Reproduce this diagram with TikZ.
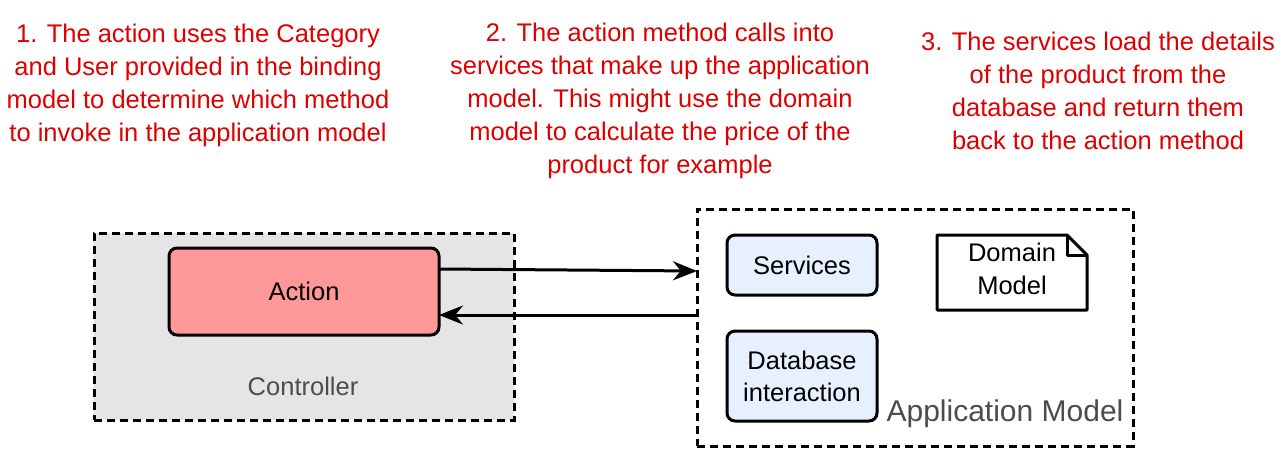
\documentclass[tikz,border=0pt]{standalone}
\usepackage{fontspec}
\setmainfont{Liberation Sans}
\usetikzlibrary{arrows.meta}
\definecolor{red1}{HTML}{DD0000}
\begin{document}
\begin{tikzpicture}[x=1pt,y=-1pt,
  box/.style={draw,line width=3pt,rounded corners=8pt,align=center,font=\fontsize{25.5}{32}\selectfont},
  dsh/.style={draw,line width=3pt,dash pattern=on 8pt off 5pt},
  note/.style={text=red1,align=center,font=\fontsize{25.5}{33}\selectfont},
  arr/.style={line width=3pt,-{Stealth[length=24pt,width=19pt]}}]
\useasboundingbox (0,0) rectangle (1284,450);
\node[dsh,fill=black!10,minimum width=420pt,minimum height=187pt] (ctrl) at (304,326.5) {};
\node[text=black!70,font=\fontsize{25.5}{30}\selectfont] (ctrll) at (303,386) {Controller};
\node[box,fill={rgb,255:red,255;green,153;blue,153},minimum width=270pt,minimum height=87pt] (act) at (304,291.5) {Action};
\node[dsh,fill=white,minimum width=436pt,minimum height=237pt] (app) at (915,327.5) {};
\node[text=black!70,font=\fontsize{30}{34}\selectfont] (appl) at (1005,414) {Application Model};
\node[box,fill={rgb,255:red,230;green,240;blue,255},minimum width=150pt,minimum height=60pt] (svc) at (802,265) {Services};
\node[box,fill={rgb,255:red,230;green,240;blue,255},minimum width=150pt,minimum height=90pt] (db) at (802,376) {Database\\interaction};
\draw[line width=3pt,fill=white,line join=round] (937,235) -- (1067,235) -- (1087,255) -- (1087,310) -- (937,310) -- cycle;
\draw[line width=3pt,line join=round] (1067,235) -- (1067,255) -- (1087,255);
\node[align=center,font=\fontsize{25.5}{33}\selectfont] (dom) at (1012,269) {Domain\\Model};
\coordinate (a1) at (439,269);
\coordinate (a2) at (697,271);
\coordinate (b1) at (697,315);
\coordinate (b2) at (439,315);
\draw[arr] (a1) -- (a2);
\draw[arr] (b1) -- (b2);
\node[note] (n1) at (198,85) {1. The action uses the Category\\and User provided in the binding\\model to determine which method\\to invoke in the application model};
\node[note] (n2) at (660,101) {2. The action method calls into\\services that make up the application\\model. This might use the domain\\model to calculate the price of the\\product for example};
\node[note] (n3) at (1098,91) {3. The services load the details\\of the product from the\\database and return them\\back to the action method};
\end{tikzpicture}
\end{document}
